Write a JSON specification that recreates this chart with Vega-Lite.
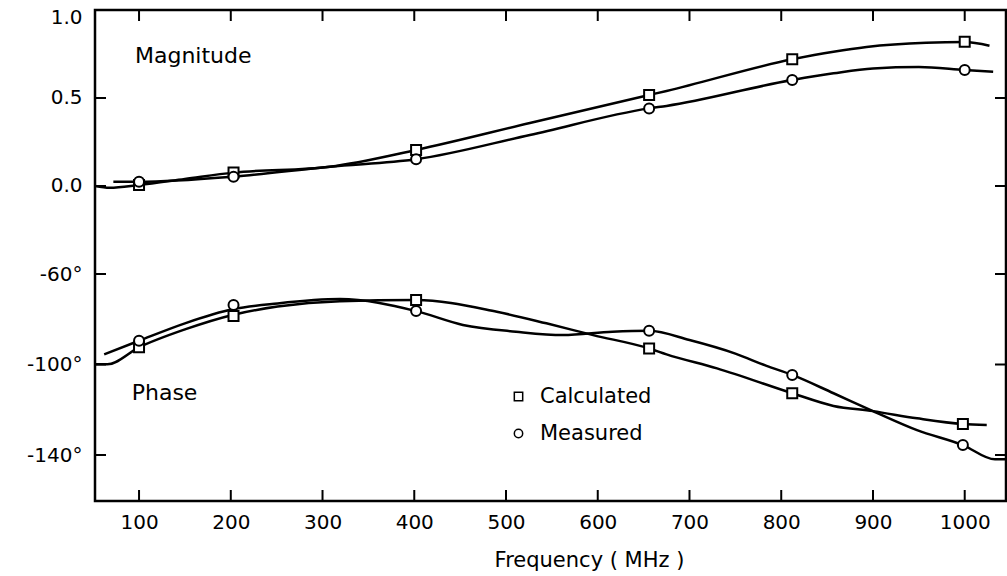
{
  "$schema": "https://vega.github.io/schema/vega-lite/v6.json",
  "autosize": {"type": "none"},
  "padding": {"left": 95, "top": 10, "right": 1, "bottom": 75},
  "width": 911,
  "height": 491,
  "background": "white",
  "config": {
    "font": "DejaVu Sans",
    "view": {"stroke": "black", "strokeWidth": 2.5},
    "axis": {"labelColor": "black", "tickColor": "black", "domain": false, "grid": false, "titleColor": "black"}
  },
  "datasets": {
    "magLine": [
      {"f": 52, "v": 0.0, "s": "Calculated"},
      {"f": 68, "v": -0.01, "s": "Calculated"},
      {"f": 100, "v": 0.006, "s": "Calculated"},
      {"f": 150, "v": 0.04, "s": "Calculated"},
      {"f": 203, "v": 0.076, "s": "Calculated"},
      {"f": 308, "v": 0.11, "s": "Calculated"},
      {"f": 402, "v": 0.205, "s": "Calculated"},
      {"f": 526, "v": 0.358, "s": "Calculated"},
      {"f": 656, "v": 0.517, "s": "Calculated"},
      {"f": 675, "v": 0.54, "s": "Calculated"},
      {"f": 812, "v": 0.72, "s": "Calculated"},
      {"f": 857, "v": 0.763, "s": "Calculated"},
      {"f": 893, "v": 0.79, "s": "Calculated"},
      {"f": 958, "v": 0.814, "s": "Calculated"},
      {"f": 1000, "v": 0.818, "s": "Calculated"},
      {"f": 1027, "v": 0.797, "s": "Calculated"},
      {"f": 72, "v": 0.024, "s": "Measured"},
      {"f": 100, "v": 0.024, "s": "Measured"},
      {"f": 203, "v": 0.053, "s": "Measured"},
      {"f": 308, "v": 0.11, "s": "Measured"},
      {"f": 402, "v": 0.152, "s": "Measured"},
      {"f": 526, "v": 0.29, "s": "Measured"},
      {"f": 656, "v": 0.441, "s": "Measured"},
      {"f": 675, "v": 0.455, "s": "Measured"},
      {"f": 812, "v": 0.602, "s": "Measured"},
      {"f": 857, "v": 0.64, "s": "Measured"},
      {"f": 900, "v": 0.668, "s": "Measured"},
      {"f": 950, "v": 0.676, "s": "Measured"},
      {"f": 1000, "v": 0.659, "s": "Measured"},
      {"f": 1031, "v": 0.649, "s": "Measured"}
    ],
    "magPts": [
      {"f": 100, "v": 0.006, "s": "Calculated"},
      {"f": 203, "v": 0.076, "s": "Calculated"},
      {"f": 402, "v": 0.205, "s": "Calculated"},
      {"f": 656, "v": 0.517, "s": "Calculated"},
      {"f": 812, "v": 0.72, "s": "Calculated"},
      {"f": 1000, "v": 0.82, "s": "Calculated"},
      {"f": 100, "v": 0.024, "s": "Measured"},
      {"f": 203, "v": 0.053, "s": "Measured"},
      {"f": 402, "v": 0.152, "s": "Measured"},
      {"f": 656, "v": 0.441, "s": "Measured"},
      {"f": 812, "v": 0.602, "s": "Measured"},
      {"f": 1000, "v": 0.659, "s": "Measured"}
    ],
    "phLine": [
      {"f": 52, "v": -99.9, "s": "Calculated"},
      {"f": 65.5, "v": -99.9, "s": "Calculated"},
      {"f": 100, "v": -92.4, "s": "Calculated"},
      {"f": 150, "v": -84.5, "s": "Calculated"},
      {"f": 203, "v": -78.0, "s": "Calculated"},
      {"f": 251, "v": -74.4, "s": "Calculated"},
      {"f": 319, "v": -72.0, "s": "Calculated"},
      {"f": 402, "v": -71.5, "s": "Calculated"},
      {"f": 490, "v": -76.7, "s": "Calculated"},
      {"f": 544, "v": -81.8, "s": "Calculated"},
      {"f": 595, "v": -87.0, "s": "Calculated"},
      {"f": 656, "v": -92.9, "s": "Calculated"},
      {"f": 675, "v": -95.5, "s": "Calculated"},
      {"f": 730, "v": -101.7, "s": "Calculated"},
      {"f": 812, "v": -112.7, "s": "Calculated"},
      {"f": 857, "v": -118.3, "s": "Calculated"},
      {"f": 900, "v": -120.6, "s": "Calculated"},
      {"f": 948, "v": -123.8, "s": "Calculated"},
      {"f": 998, "v": -126.3, "s": "Calculated"},
      {"f": 1024, "v": -126.7, "s": "Calculated"},
      {"f": 62, "v": -95.5, "s": "Measured"},
      {"f": 100, "v": -89.5, "s": "Measured"},
      {"f": 150, "v": -81.8, "s": "Measured"},
      {"f": 203, "v": -75.5, "s": "Measured"},
      {"f": 251, "v": -73.0, "s": "Measured"},
      {"f": 319, "v": -71.1, "s": "Measured"},
      {"f": 402, "v": -76.4, "s": "Measured"},
      {"f": 453, "v": -82.5, "s": "Measured"},
      {"f": 511, "v": -85.5, "s": "Measured"},
      {"f": 562, "v": -87.0, "s": "Measured"},
      {"f": 616, "v": -85.5, "s": "Measured"},
      {"f": 656, "v": -85.1, "s": "Measured"},
      {"f": 700, "v": -89.2, "s": "Measured"},
      {"f": 750, "v": -95.2, "s": "Measured"},
      {"f": 784, "v": -100.6, "s": "Measured"},
      {"f": 812, "v": -104.6, "s": "Measured"},
      {"f": 857, "v": -112.7, "s": "Measured"},
      {"f": 900, "v": -120.6, "s": "Measured"},
      {"f": 948, "v": -129.0, "s": "Measured"},
      {"f": 998, "v": -135.6, "s": "Measured"},
      {"f": 1033, "v": -141.9, "s": "Measured"},
      {"f": 1045, "v": -141.9, "s": "Measured"}
    ],
    "phPts": [
      {"f": 100, "v": -92.4, "s": "Calculated"},
      {"f": 203, "v": -78.6, "s": "Calculated"},
      {"f": 402, "v": -71.5, "s": "Calculated"},
      {"f": 656, "v": -92.9, "s": "Calculated"},
      {"f": 812, "v": -112.7, "s": "Calculated"},
      {"f": 998, "v": -126.3, "s": "Calculated"},
      {"f": 100, "v": -89.5, "s": "Measured"},
      {"f": 203, "v": -73.7, "s": "Measured"},
      {"f": 402, "v": -76.4, "s": "Measured"},
      {"f": 656, "v": -85.1, "s": "Measured"},
      {"f": 812, "v": -104.6, "s": "Measured"},
      {"f": 998, "v": -135.6, "s": "Measured"}
    ],
    "magLabel": [{"f": 95.6, "v": 0.74, "t": "Magnitude"}],
    "phLabel": [{"f": 92, "v": -112.4, "t": "Phase"}],
    "xTicks": [{"f": 100}, {"f": 200}, {"f": 300}, {"f": 400}, {"f": 500}, {"f": 600}, {"f": 700}, {"f": 800}, {"f": 900}, {"f": 1000}],
    "magTicks": [{"v": 0.5}, {"v": 0.0}],
    "phTicks": [{"v": -60}, {"v": -100}, {"v": -140}]
  },
  "layer": [
    {
      "data": {"name": "magLine"},
      "mark": {"type": "line", "color": "black", "strokeWidth": 2.5, "interpolate": "monotone"},
      "encoding": {
        "x": {"field": "f", "type": "quantitative", "scale": {"domain": [52, 1045], "nice": false, "zero": false},
          "axis": {"orient": "bottom", "values": [100, 200, 300, 400, 500, 600, 700, 800, 900, 1000], "format": "d", "ticks": false, "labelPadding": 11, "labelFontSize": 20, "labelFlush": false,
            "title": "Frequency  ( MHz )", "titleFontSize": 21, "titleFontWeight": "normal", "titleX": 494, "titleY": 48, "titleBaseline": "top", "titleAlign": "center"}},
        "y": {"field": "v", "type": "quantitative", "scale": {"domain": [-1.7898, 1.0], "nice": false, "zero": false},
          "axis": {"orient": "left", "values": [1, 0.5, 0], "format": ".1f", "ticks": false, "labelPadding": 13, "labelFontSize": 20, "title": null,
            "labelOffset": {"condition": {"test": "datum.value == 1", "value": 7}, "value": 0}}},
        "detail": {"field": "s"}
      }
    },
    {
      "data": {"name": "magPts"},
      "mark": {"type": "point", "filled": false, "fill": "white", "fillOpacity": 1, "stroke": "black", "strokeWidth": 2, "size": 100, "opacity": 1},
      "encoding": {
        "x": {"field": "f", "type": "quantitative", "scale": {"domain": [52, 1045], "nice": false, "zero": false}, "axis": null},
        "y": {"field": "v", "type": "quantitative", "scale": {"domain": [-1.7898, 1.0], "nice": false, "zero": false}, "axis": null},
        "shape": {"field": "s", "type": "nominal", "scale": {"domain": ["Calculated", "Measured"], "range": ["square", "circle"]},
          "legend": {"orient": "none", "legendX": 413, "legendY": 376, "title": null, "labelFontSize": 21, "labelColor": "black", "symbolSize": 70, "labelOffset": 11, "rowPadding": 15,
            "encode": {"symbols": {"update": {"stroke": {"value": "black"}, "fill": {"value": "white"}, "strokeWidth": {"value": 2}, "opacity": {"value": 1}, "fillOpacity": {"value": 1}, "strokeOpacity": {"value": 1}}}}}}
      }
    },
    {
      "data": {"name": "phLine"},
      "mark": {"type": "line", "color": "black", "strokeWidth": 2.5, "interpolate": "monotone"},
      "encoding": {
        "x": {"field": "f", "type": "quantitative", "scale": {"domain": [52, 1045], "nice": false, "zero": false}, "axis": null},
        "y": {"field": "v", "type": "quantitative", "scale": {"domain": [-160.33, 56.69], "nice": false, "zero": false},
          "axis": {"orient": "left", "values": [-60, -100, -140], "labelExpr": "datum.value + '°'", "ticks": false, "labelPadding": 13, "labelFontSize": 20, "title": null}},
        "detail": {"field": "s"}
      }
    },
    {
      "data": {"name": "phPts"},
      "mark": {"type": "point", "filled": false, "fill": "white", "fillOpacity": 1, "stroke": "black", "strokeWidth": 2, "size": 100, "opacity": 1},
      "encoding": {
        "x": {"field": "f", "type": "quantitative", "scale": {"domain": [52, 1045], "nice": false, "zero": false}, "axis": null},
        "y": {"field": "v", "type": "quantitative", "scale": {"domain": [-160.33, 56.69], "nice": false, "zero": false}, "axis": null},
        "shape": {"field": "s", "type": "nominal", "scale": {"domain": ["Calculated", "Measured"], "range": ["square", "circle"]}}
      }
    },
    {
      "data": {"name": "magLabel"},
      "mark": {"type": "text", "align": "left", "baseline": "middle", "fontSize": 22, "color": "black"},
      "encoding": {
        "x": {"field": "f", "type": "quantitative", "scale": {"domain": [52, 1045], "nice": false, "zero": false}, "axis": null},
        "y": {"field": "v", "type": "quantitative", "scale": {"domain": [-1.7898, 1.0], "nice": false, "zero": false}, "axis": null},
        "text": {"field": "t"}
      }
    },
    {
      "data": {"name": "phLabel"},
      "mark": {"type": "text", "align": "left", "baseline": "middle", "fontSize": 22, "color": "black"},
      "encoding": {
        "x": {"field": "f", "type": "quantitative", "scale": {"domain": [52, 1045], "nice": false, "zero": false}, "axis": null},
        "y": {"field": "v", "type": "quantitative", "scale": {"domain": [-160.33, 56.69], "nice": false, "zero": false}, "axis": null},
        "text": {"field": "t"}
      }
    },
    {
      "data": {"name": "xTicks"},
      "mark": {"type": "tick", "orient": "vertical", "size": 11, "thickness": 2, "color": "black", "opacity": 1, "yOffset": 5.5},
      "encoding": {
        "x": {"field": "f", "type": "quantitative", "scale": {"domain": [52, 1045], "nice": false, "zero": false}, "axis": null},
        "y": {"datum": 1.0, "type": "quantitative", "scale": {"domain": [-1.7898, 1.0], "nice": false, "zero": false}, "axis": null}
      }
    },
    {
      "data": {"name": "xTicks"},
      "mark": {"type": "tick", "orient": "vertical", "size": 11, "thickness": 2, "color": "black", "opacity": 1, "yOffset": -5.5},
      "encoding": {
        "x": {"field": "f", "type": "quantitative", "scale": {"domain": [52, 1045], "nice": false, "zero": false}, "axis": null},
        "y": {"datum": -1.7898, "type": "quantitative", "scale": {"domain": [-1.7898, 1.0], "nice": false, "zero": false}, "axis": null}
      }
    },
    {
      "data": {"name": "magTicks"},
      "mark": {"type": "tick", "orient": "horizontal", "size": 11, "thickness": 2, "color": "black", "opacity": 1, "xOffset": 5.5},
      "encoding": {
        "x": {"datum": 52, "type": "quantitative", "scale": {"domain": [52, 1045], "nice": false, "zero": false}, "axis": null},
        "y": {"field": "v", "type": "quantitative", "scale": {"domain": [-1.7898, 1.0], "nice": false, "zero": false}, "axis": null}
      }
    },
    {
      "data": {"name": "magTicks"},
      "mark": {"type": "tick", "orient": "horizontal", "size": 11, "thickness": 2, "color": "black", "opacity": 1, "xOffset": -5.5},
      "encoding": {
        "x": {"datum": 1045, "type": "quantitative", "scale": {"domain": [52, 1045], "nice": false, "zero": false}, "axis": null},
        "y": {"field": "v", "type": "quantitative", "scale": {"domain": [-1.7898, 1.0], "nice": false, "zero": false}, "axis": null}
      }
    },
    {
      "data": {"name": "phTicks"},
      "mark": {"type": "tick", "orient": "horizontal", "size": 11, "thickness": 2, "color": "black", "opacity": 1, "xOffset": 5.5},
      "encoding": {
        "x": {"datum": 52, "type": "quantitative", "scale": {"domain": [52, 1045], "nice": false, "zero": false}, "axis": null},
        "y": {"field": "v", "type": "quantitative", "scale": {"domain": [-160.33, 56.69], "nice": false, "zero": false}, "axis": null}
      }
    },
    {
      "data": {"name": "phTicks"},
      "mark": {"type": "tick", "orient": "horizontal", "size": 11, "thickness": 2, "color": "black", "opacity": 1, "xOffset": -5.5},
      "encoding": {
        "x": {"datum": 1045, "type": "quantitative", "scale": {"domain": [52, 1045], "nice": false, "zero": false}, "axis": null},
        "y": {"field": "v", "type": "quantitative", "scale": {"domain": [-160.33, 56.69], "nice": false, "zero": false}, "axis": null}
      }
    }
  ],
  "resolve": {"scale": {"y": "independent"}, "axis": {"x": "independent", "y": "independent"}}
}
